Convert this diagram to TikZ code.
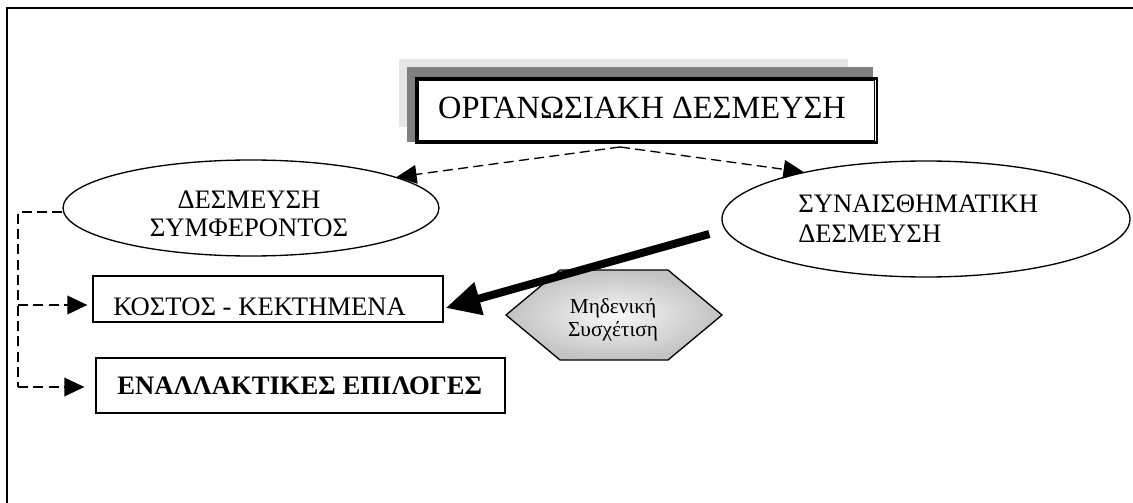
\documentclass[tikz,border=0pt]{standalone}
\usepackage{fontspec}
\setmainfont{Liberation Serif}
\usetikzlibrary{shapes.geometric,arrows.meta,calc}
\begin{document}
\begin{tikzpicture}[x=0.75pt,y=-0.75pt,
  outline/.style={draw=black,line width=1pt},
  oval/.style={outline,ellipse,inner sep=0pt},
  framebox/.style={outline,rectangle,inner sep=0pt,fill=white},
  labeltext/.style={inner sep=0pt,font=\fontsize{20}{22}\selectfont},
  dashline/.style={line width=1pt,dash pattern=on 7.5pt off 4pt},
  dasharrow/.style={dashline,-{Triangle[length=15pt,width=14pt]}},
  heavyarrow/.style={line width=6pt,-{Triangle[length=26pt,width=24pt]}}
]
\useasboundingbox (0,0) rectangle (1133,503);
\fill[white] (0,0) rectangle (1133,503);

% page frame (top and left edges)
\draw[line width=1.75pt] (7,503) -- (7,8) -- (1133,8);

% title with two offset shadow panels and a double border
\fill[black!10] (399,59) rectangle (848,127);
\fill[black!50] (407,67) rectangle (873,142);
\node[framebox, line width=2pt, minimum width=345.5pt, minimum height=48.4pt] (org) at (646.5,110.5) {};
\draw[line width=0.8pt] ($(org.south west)+(4,-4)$) rectangle ($(org.north east)+(-4,4)$);
\node[inner sep=0pt, font=\fontsize{24.3}{26}\selectfont] (orgtext) at (642,107.5) {ΟΡΓΑΝΩΣΙΑΚΗ ΔΕΣΜΕΥΣΗ};

% the two kinds of commitment
\node[oval, minimum width=282pt, minimum height=72pt] (dsym) at (251,208) {};
\node[labeltext, align=center, font=\fontsize{20}{21}\selectfont] (dsymtext) at (249,214) {ΔΕΣΜΕΥΣΗ\\ΣΥΜΦΕΡΟΝΤΟΣ};

\node[oval, minimum width=306pt, minimum height=87pt] (sdes) at (926,219) {};
\node[labeltext, align=left, anchor=west, font=\fontsize{20}{22.5}\selectfont] (sdestext) at (798,218.5) {ΣΥΝΑΙΣΘΗΜΑΤΙΚΗ\\ΔΕΣΜΕΥΣΗ};

% components of continuance commitment
\node[framebox, minimum width=262.5pt, minimum height=34.5pt] (kostos) at (268,299) {};
\node[labeltext, anchor=west] (kostostext) at (113,307) {ΚΟΣΤΟΣ - ΚΕΚΤΗΜΕΝΑ};

\node[framebox, minimum width=306.75pt, minimum height=41.25pt] (enal) at (300.5,385.5) {};
\node[labeltext, anchor=west, font=\fontsize{20}{22}\selectfont\bfseries] (enaltext) at (117,386) {ΕΝΑΛΛΑΚΤΙΚΕΣ ΕΠΙΛΟΓΕΣ};

% branching from the title
\coordinate (split) at (620,147);
\draw[dasharrow] (split) -- (dsym.12);
\draw[dasharrow] (split) -- (sdes.159);

% dashed rail on the left
\coordinate (railtop) at (18,212);
\coordinate (railbot) at (18,387);
\coordinate (kin) at ($(kostos.west)+(-5,6)$);
\coordinate (ein) at ($(enal.west)+(-11,1.5)$);
\draw[dashline] (railtop -| dsym.west) -- (railtop) -- (railbot);
\draw[dasharrow] (railtop |- kin) -- (kin);
\draw[dasharrow] (railbot) -- (ein);

% zero-correlation hexagon
\shade[draw=black, line width=1pt, inner color=black!3, outer color=black!24]
  (506,315) -- (560,270) -- (668,270) -- (722,315) -- (668,360) -- (560,360) -- cycle;
\node[inner sep=0pt, align=center, font=\fontsize{16}{17.25}\selectfont] (zero) at (613,320) {Μηδενική\\Συσχέτιση};

% heavy arrow from affective commitment
\coordinate (hstart) at ($(sdes.west)+(-12,15)$);
\coordinate (hend) at ($(kostos.east)+(2,9)$);
\draw[heavyarrow] (hstart) -- (hend);
\end{tikzpicture}
\end{document}
